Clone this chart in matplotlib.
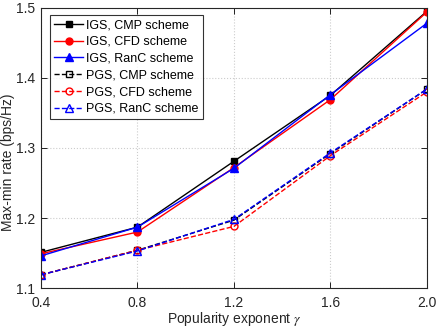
import matplotlib
matplotlib.use("Agg")
import matplotlib.pyplot as plt

plt.rcParams['font.family'] = ['Liberation Sans', 'DejaVu Sans']
plt.rcParams['mathtext.fontset'] = 'stix'

gamma = [0.4, 0.8, 1.2, 1.6, 2.0]
igs_cmp = [1.151, 1.187, 1.281, 1.375, 1.495]
igs_cfd = [1.149, 1.180, 1.272, 1.369, 1.494]
igs_ranc = [1.146, 1.187, 1.271, 1.376, 1.478]
pgs_cmp = [1.119, 1.154, 1.197, 1.292, 1.384]
pgs_cfd = [1.119, 1.154, 1.188, 1.289, 1.380]
pgs_ranc = [1.119, 1.153, 1.198, 1.293, 1.384]
labels = ["IGS, CMP scheme", "IGS, CFD scheme", "IGS, RanC scheme",
          "PGS, CMP scheme", "PGS, CFD scheme", "PGS, RanC scheme"]

fig = plt.figure(figsize=(4.36, 3.27), dpi=100)
ax = fig.add_axes([0.094, 0.119, 0.885, 0.857])

ms = 5
ax.plot(gamma, igs_cmp, '-', color='black', marker='s', ms=ms, lw=1, label=labels[0])
ax.plot(gamma, igs_cfd, '-', color='red', marker='o', ms=ms, lw=1, label=labels[1])
ax.plot(gamma, igs_ranc, '-', color='blue', marker='^', ms=ms+1, lw=1, label=labels[2])
ax.plot(gamma, pgs_cmp, '--', color='black', marker='s', ms=ms, mfc='none', lw=1, label=labels[3])
ax.plot(gamma, pgs_cfd, '--', color='red', marker='o', ms=ms, mfc='none', lw=1, label=labels[4])
ax.plot(gamma, pgs_ranc, '--', color='blue', marker='^', ms=ms+1, mfc='none', lw=1, label=labels[5])

ax.set_xlim(0.4, 2.0)
ax.set_ylim(1.1, 1.5)
ax.set_xticks(gamma)
ax.set_xticklabels(["0.4", "0.8", "1.2", "1.6", "2.0"])
ax.set_yticks([1.1, 1.2, 1.3, 1.4, 1.5])
ax.set_yticklabels(["1.1", "1.2", "1.3", "1.4", "1.5"])
ax.tick_params(direction='in', top=True, right=True, labelsize=10, length=4, width=0.6,
               labelcolor='#262626')
ax.tick_params(axis='x', pad=6)
ax.tick_params(axis='y', pad=4)
ax.grid(True, linestyle=':', color='#cccccc', lw=0.8)
for s in ax.spines.values():
    s.set_linewidth(0.8)
    s.set_color('#262626')

ax.set_xlabel(r"Popularity exponent $\gamma$", fontsize=10, color='#262626')
ax.set_ylabel("Max-min rate (bps/Hz)", fontsize=10, color='#262626')
ax.xaxis.set_label_coords(0.5, -0.077)
ax.yaxis.set_label_coords(-0.0675, 0.45)

leg = ax.legend(loc='upper left', fontsize=9, frameon=True, fancybox=False,
                edgecolor='black', handlelength=2.3, handletextpad=0.25,
                borderpad=0.35, labelspacing=0.38, borderaxespad=0.0,
                bbox_to_anchor=(0.023, 0.975))
leg.get_frame().set_linewidth(0.8)

fig.savefig("out.png", dpi=100)
